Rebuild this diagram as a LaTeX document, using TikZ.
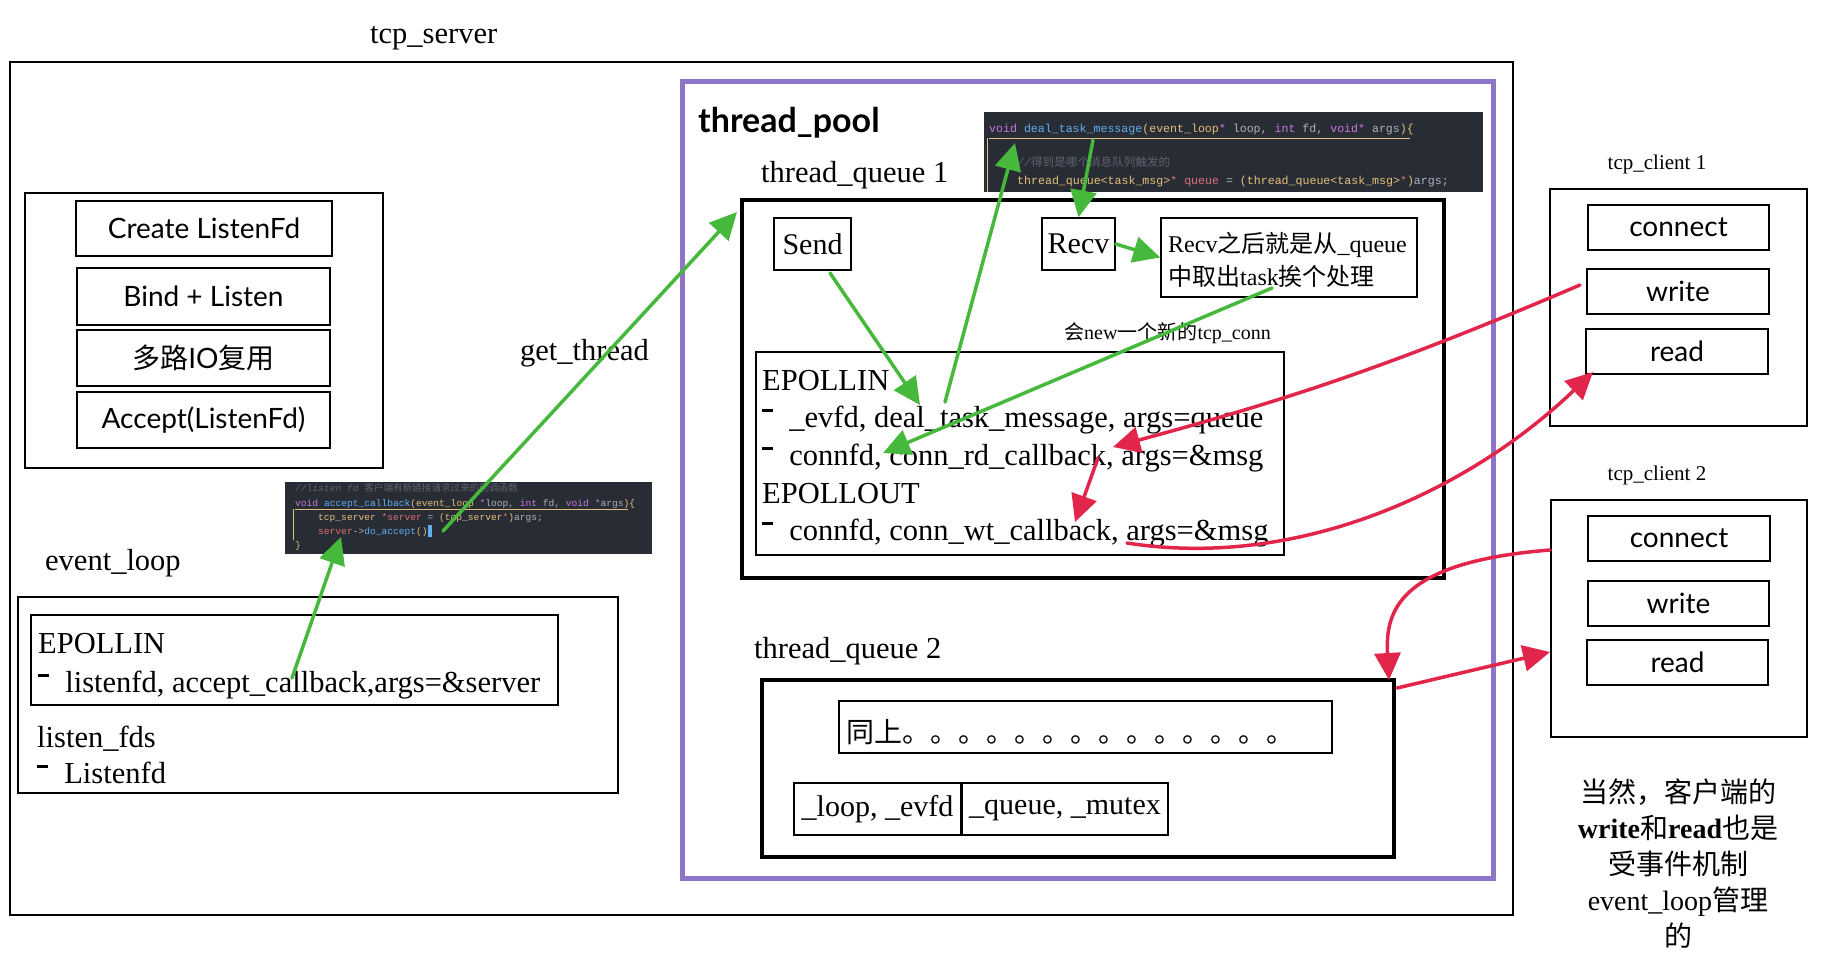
\documentclass[tikz,border=0pt]{standalone}
\usepackage{fontspec}
\setmainfont{Liberation Serif}
\setsansfont{Lato}
\setmonofont{Liberation Mono}
\newfontfamily\cjk{Noto Sans CJK SC}
\usetikzlibrary{arrows.meta}
\definecolor{codebg}{HTML}{282C34}
\definecolor{cpur}{HTML}{C678DD}
\definecolor{cblu}{HTML}{61AFEF}
\definecolor{cgld}{HTML}{E5C07B}
\definecolor{cred}{HTML}{E06C75}
\definecolor{cfg}{HTML}{ABB2BF}
\definecolor{ccom}{HTML}{5C6370}
\definecolor{poolpurple}{HTML}{8E74C8}
\definecolor{arrgreen}{HTML}{46B83C}
\definecolor{arrred}{HTML}{E2264B}
\newcommand\kP[1]{\textcolor{cpur}{#1}}
\newcommand\kB[1]{\textcolor{cblu}{#1}}
\newcommand\kY[1]{\textcolor{cgld}{#1}}
\newcommand\kR[1]{\textcolor{cred}{#1}}
\newcommand\kW[1]{\textcolor{cfg}{#1}}
\newcommand\fsz[1]{\fontsize{#1}{#1}\selectfont}
\newcommand\dsh{\rule[0.5em]{0.34em}{0.09em}\hspace{0.55em}}
\newcommand\mybox[7][]{%
  \pgfmathsetmacro\bw{#5-#3}\pgfmathsetmacro\bh{#6-#4}%
  \pgfmathsetmacro\bx{(#3+#5)/2}\pgfmathsetmacro\by{(#4+#6)/2}%
  \node[rect,#1,minimum width=\bw pt,minimum height=\bh pt] (#2) at (\bx,\by) {#7};}
\tikzset{
  rect/.style={draw, line width=1.4pt, inner sep=0pt, align=center},
  lbl/.style={inner sep=0pt, anchor=base west},
  serif/.style={font=\fsz{30.5}},
  sansbox/.style={font=\sffamily\fsz{28}},
  codebox/.style={draw=none, fill=codebg},
  cline/.style={inner sep=0pt, anchor=base west, font=\ttfamily\fsz{9.6}},
  clineb/.style={inner sep=0pt, anchor=base west, font=\ttfamily\fsz{11.6}},
  poolbox/.style={draw=poolpurple, line width=5pt},
  queuebox/.style={draw=black, line width=4.5pt},
  garrow/.style={draw=arrgreen, line width=3.5pt, line cap=round, -{Triangle[length=27pt,width=26pt]}},
  rarrow/.style={draw=arrred, line width=3.5pt, line cap=round, -{Triangle[length=27pt,width=26pt]}},
}
\begin{document}
\begin{tikzpicture}[x=1pt,y=-1pt]
\useasboundingbox (0,0) rectangle (1828,962);

% ---------- tcp_server ----------
\node[lbl, serif] (tcpserver) at (370,43) {tcp\_server};
\mybox{server}{10}{62}{1513}{915}{}

\mybox{lbox}{25}{193}{383}{468}{}
\mybox[sansbox]{create}{76}{201}{332}{256}{Create ListenFd}
\mybox[sansbox]{bind}{77}{268}{330}{325}{Bind + Listen}
\mybox[sansbox]{mux}{77}{330}{330}{386}{{\cjk 多路}IO{\cjk 复用}}
\mybox[sansbox]{accept}{77}{392}{330}{448}{Accept(ListenFd)}

\node[lbl, serif] (getthread) at (520,360) {get\_thread};

% code snippet 1
\mybox[codebox]{code1}{285}{482}{652}{554}{}
\draw[cgld, line width=0.8pt] (295,509) -- (628,509);
\draw[cgld, line width=0.8pt] (293,509) -- (293,540);
\node[cline] (c1a) at (295,491) {\textcolor{ccom}{\itshape //listen fd {\cjk 客户端有新链接请求过来的回调函数}}};
\node[cline] (c1b) at (295,506) {\kP{void} \kB{accept\_callback}\kY{(event\_loop} \kP{*}\kW{loop,} \kP{int} \kW{fd,} \kP{void} \kP{*}\kW{args}\kY{)\{}};
\node[cline] (c1c) at (318,520) {\kY{tcp\_server} \kR{*server} \kW{=} \kY{(tcp\_server}\kR{*}\kY{)}\kW{args;}};
\node[cline] (c1d) at (318,534) {\kR{server}\kW{->}\kB{do\_accept}\kY{()}};
\fill[cblu] (428,525) rectangle (432,537);
\node[cline] (c1e) at (295,548) {\kY{\}}};

% event_loop
\node[lbl, serif] (evloop) at (45,570) {event\_loop};
\mybox{evbox}{18}{597}{618}{793}{}
\mybox{evin}{31}{615}{558}{705}{}
\node[lbl, serif] (evinA) at (38,653) {EPOLLIN};
\node[lbl, serif] (evinB) at (38,692) {\dsh listenfd, accept\_callback,args=\&server};
\node[lbl, serif] (lfds) at (37,747) {listen\_fds};
\node[lbl, serif] (lfdsB) at (37,783) {\dsh Listenfd};

% ---------- thread pool ----------
\mybox[poolbox]{pool}{682}{81}{1493}{878}{}
\node[lbl, font=\sffamily\bfseries\fsz{34}] (tpool) at (698,132) {thread\_pool};
\node[lbl, serif] (tq1lbl) at (761,182) {thread\_queue 1};

% code snippet 2
\mybox[codebox]{code2}{984}{112}{1483}{192}{}
\draw[cgld, line width=0.8pt] (989,138) -- (1410,138);
\draw[cgld, line width=0.8pt] (987,138) -- (987,192);
\node[clineb] (c2a) at (989,132) {\kP{void} \kB{deal\_task\_message}\kY{(event\_loop}\kP{*} \kW{loop,} \kP{int} \kW{fd,} \kP{void}\kP{*} \kW{args}\kY{)\{}};
\node[clineb] (c2b) at (1017,166) {\textcolor{ccom}{\itshape //{\cjk 得到是哪个消息队列触发的}}};
\node[clineb] (c2c) at (1017,184) {\kY{thread\_queue<task\_msg>}\kR{*} \kR{queue} \kW{=} \kY{(thread\_queue<task\_msg>}\kR{*}\kY{)}\kW{args;}};

\mybox[queuebox]{tq1}{742}{200}{1444}{578}{}
\mybox[font=\fsz{30}]{send}{774}{218}{851}{270}{Send}
\mybox[font=\fsz{30}]{recv}{1042}{218}{1115}{270}{Recv}
\mybox{recvtxt}{1161}{218}{1417}{297}{}
\node[lbl, font=\fsz{24}] (rt1) at (1168,252) {Recv{\cjk 之后就是从}\_queue};
\node[lbl, font=\fsz{24}] (rt2) at (1168,285) {{\cjk 中取出}task{\cjk 挨个处理}};
\node[lbl, font=\fsz{20}] (newconn) at (1064,339) {{\cjk 会}new{\cjk 一个新的}tcp\_conn};

\mybox{epoll}{756}{352}{1284}{555}{}
\node[lbl, serif] (ep1) at (762,390) {EPOLLIN};
\node[lbl, serif] (ep2) at (762,427) {\dsh \_evfd, deal\_task\_message, args=queue};
\node[lbl, serif] (ep3) at (762,465) {\dsh connfd, conn\_rd\_callback, args=\&msg};
\node[lbl, serif] (ep4) at (762,503) {EPOLLOUT};
\node[lbl, serif] (ep5) at (762,540) {\dsh connfd, conn\_wt\_callback, args=\&msg};

\node[lbl, serif] (tq2lbl) at (754,658) {thread\_queue 2};
\mybox[queuebox]{tq2}{762}{680}{1394}{857}{}
\mybox{same}{839}{701}{1332}{753}{}
\node[lbl, font=\cjk\fsz{28}] (sametxt) at (846,742) {同上。。。。。。。。。。。。。。};
\mybox[font=\fsz{30}]{loopbox}{794}{783}{961}{835}{\_loop, \_evfd}
\mybox[font=\fsz{30}]{queuebx}{962}{783}{1168}{835}{\_queue, \_mutex}

% ---------- clients ----------
\node[inner sep=0pt, anchor=base, font=\fsz{21}] (cl1lbl) at (1657,169) {tcp\_client 1};
\mybox{c1}{1550}{189}{1807}{426}{}
\mybox[sansbox]{c1con}{1588}{205}{1769}{250}{connect}
\mybox[sansbox]{c1wr}{1587}{269}{1769}{314}{write}
\mybox[sansbox]{c1rd}{1586}{329}{1768}{374}{read}

\node[inner sep=0pt, anchor=base, font=\fsz{21}] (cl2lbl) at (1657,480) {tcp\_client 2};
\mybox{c2}{1551}{500}{1807}{737}{}
\mybox[sansbox]{c2con}{1588}{516}{1770}{561}{connect}
\mybox[sansbox]{c2wr}{1588}{581}{1769}{626}{write}
\mybox[sansbox]{c2rd}{1587}{640}{1768}{685}{read}

\node[inner sep=0pt, anchor=base, font=\fsz{28}] (n1) at (1678,802) {{\cjk 当然，客户端的}};
\node[inner sep=0pt, anchor=base, font=\fsz{28}] (n2) at (1678,838) {\textbf{write}{\cjk 和}\textbf{read}{\cjk 也是}};
\node[inner sep=0pt, anchor=base, font=\fsz{28}] (n3) at (1678,874) {{\cjk 受事件机制}};
\node[inner sep=0pt, anchor=base, font=\fsz{28}] (n4) at (1678,910) {event\_loop{\cjk 管理}};
\node[inner sep=0pt, anchor=base, font=\fsz{28}] (n5) at (1678,946) {{\cjk 的}};

% ---------- green arrows ----------
\coordinate (g1s) at (292,678); \coordinate (g1e) at (341,537);
\coordinate (g2s) at (443,531); \coordinate (g2e) at (737,212);
\coordinate (g3s) at (830,273); \coordinate (g3e) at (920,405);
\coordinate (g4s) at (945,402); \coordinate (g4e) at (1015,143);
\coordinate (g5s) at (1093,140);
\coordinate (g7s) at (1272,288); \coordinate (g7e) at (883,453);
\draw[garrow] (g1s) -- (g1e);
\draw[garrow] (g2s) -- (g2e);
\draw[garrow] (g3s) -- (g3e);
\draw[garrow] (g4s) -- (g4e);
\draw[garrow] (g5s) -- (recv.north);
\draw[garrow] (recv.east) -- (recvtxt.west);
\draw[garrow] (g7s) -- (g7e);

% ---------- red arrows ----------
\coordinate (r1s) at (1580,285); \coordinate (r1e) at (1113,447);
\coordinate (r2s) at (1098,458); \coordinate (r2e) at (1075,522);
\coordinate (r3s) at (1127,543); \coordinate (r3e) at (1593,372);
\coordinate (r4s) at (1550,550); \coordinate (r4e) at (1389,680);
\coordinate (r5s) at (1397,688); \coordinate (r5e) at (1550,652);
\draw[rarrow] (r1s) to[bend left=4] (r1e);
\draw[rarrow] (r2s) -- (r2e);
\draw[rarrow] (r3s) .. controls (1300,570) and (1470,490) .. (r3e);
\draw[rarrow] (r4s) .. controls (1400,562) and (1385,610) .. (r4e);
\draw[rarrow] (r5s) -- (r5e);
\end{tikzpicture}
\end{document}
